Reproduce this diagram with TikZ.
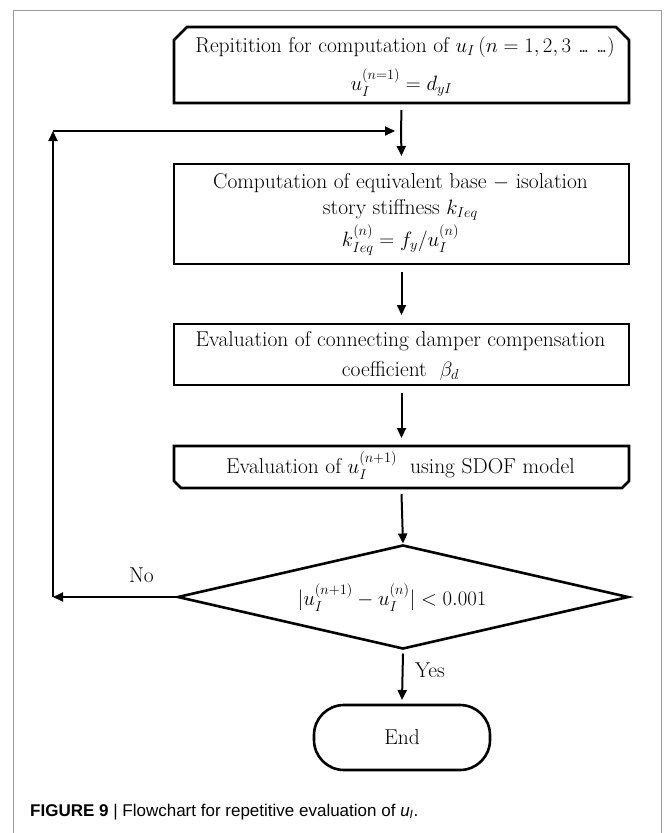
\documentclass[tikz,border=0pt]{standalone}
\usepackage{amsmath}
\usepackage{fontspec}
\newfontfamily\capfont{Liberation Sans}
\usetikzlibrary{arrows.meta,shapes.geometric}
\newcommand{\tightdots}{\mathinner{.\mkern-2.5mu.\mkern-2.5mu.}}
\tikzset{
  boxline/.style={line width=2.6pt, line join=miter},
  boxnode/.style={inner sep=0pt, outer sep=0pt},
  txt/.style={inner sep=0pt, anchor=base, font=\fontsize{21.5}{26}\selectfont},
  arr/.style={line width=2pt, -{Triangle[length=10pt,width=9pt]}},
  plain/.style={line width=2pt},
}
\begin{document}
\begin{tikzpicture}[x=1pt,y=-1pt]
\useasboundingbox (0,0) rectangle (669,833);
% outer frame
\draw[black!40, line width=1pt] (13,840) -- (13,10) -- (661,10) -- (661,840);

% top box (chamfered top corners)
\node[boxnode, minimum width=455pt, minimum height=76pt] (b1) at (401.5,65) {};
\draw[boxline] (b1.south west) -- ([yshift=-13pt]b1.north west) -- ([xshift=13pt]b1.north west)
  -- ([xshift=-13pt]b1.north east) -- ([yshift=-13pt]b1.north east) -- (b1.south east) -- cycle;
\node[txt] (t1a) at (405,52) {Repitition for computation of $u_I\,(n=1,2,3\,\tightdots\,\tightdots)$};
\node[txt] (t1b) at (401.5,90) {$u_I^{(n=1)}=d_{yI}$};

% box 2
\node[boxnode, draw, boxline, minimum width=455pt, minimum height=100pt] (b2) at (401.5,214) {};
\node[txt] (t2a) at (400.5,188) {Computation of equivalent base $-$ isolation};
\node[txt] (t2b) at (400.5,214) {story stiffness $k_{Ieq}$};
\node[txt] (t2c) at (400.5,246) {$k_{Ieq}^{(n)}=f_y/u_I^{(n)}$};

% box 3
\node[boxnode, draw, boxline, minimum width=455pt, minimum height=61pt] (b3) at (401.5,354.5) {};
\node[txt] (t3a) at (400.5,346) {Evaluation of connecting damper compensation};
\node[txt] (t3b) at (400.5,376) {coefficient\ \ $\beta_d$};

% box 4 (chamfered bottom corners)
\node[boxnode, minimum width=455pt, minimum height=42pt] (b4) at (401.5,467) {};
\draw[boxline] (b4.north west) -- (b4.north east) -- ([yshift=7pt]b4.south east)
  -- ([xshift=-7pt]b4.south east) -- ([xshift=7pt]b4.south west) -- ([yshift=7pt]b4.south west) -- cycle;
\node[txt] (t4) at (400.5,473) {Evaluation of $u_I^{(n+1)}$\ \ using SDOF model};

% decision
\node[boxnode, draw, boxline, diamond, minimum width=450pt, minimum height=103pt] (d) at (403,597) {};
\node[txt] (td) at (392,605) {$|u_I^{(n+1)}-u_I^{(n)}|<0.001$};

% end
\node[boxnode, draw, boxline, rounded corners=30pt, minimum width=176pt, minimum height=65pt] (e) at (402,737.5) {};
\node[txt] (te) at (402,744) {End};

% labels
\node[txt, anchor=base east] (no) at (154,582) {No};
\node[txt, anchor=base west] (yes) at (415,677) {Yes};

% connectors
\coordinate (m) at (401,131);
\coordinate (lt) at (53,131);
\coordinate (lb) at (53,597);
\draw[plain] ([yshift=-7pt]b1.south) -- (m);
\draw[arr] (m) -- ([yshift=8pt]b2.north);
\draw[arr] ([yshift=-8pt]b2.south) -- ([yshift=9pt]b3.north);
\draw[arr] ([yshift=-8pt]b3.south) -- ([yshift=8pt]b4.north);
\draw[arr] ([yshift=-6pt]b4.south) -- ([yshift=2pt]d.north);
\draw[arr] ([yshift=-5pt]d.south) -- ([yshift=5pt]e.north);
\draw[arr] (d.west) -- (lb);
\draw[arr] (lb) -- (lt);
\draw[arr] (lt) -- ([xshift=-6pt]m);

% caption
\node[inner sep=0pt, anchor=base west, font=\capfont\fontsize{17}{20}\selectfont] (cap) at (30,816)
  {\textbf{FIGURE 9} | Flowchart for repetitive evaluation of \textit{u}\textsubscript{\textit{I}}.};
\end{tikzpicture}
\end{document}
